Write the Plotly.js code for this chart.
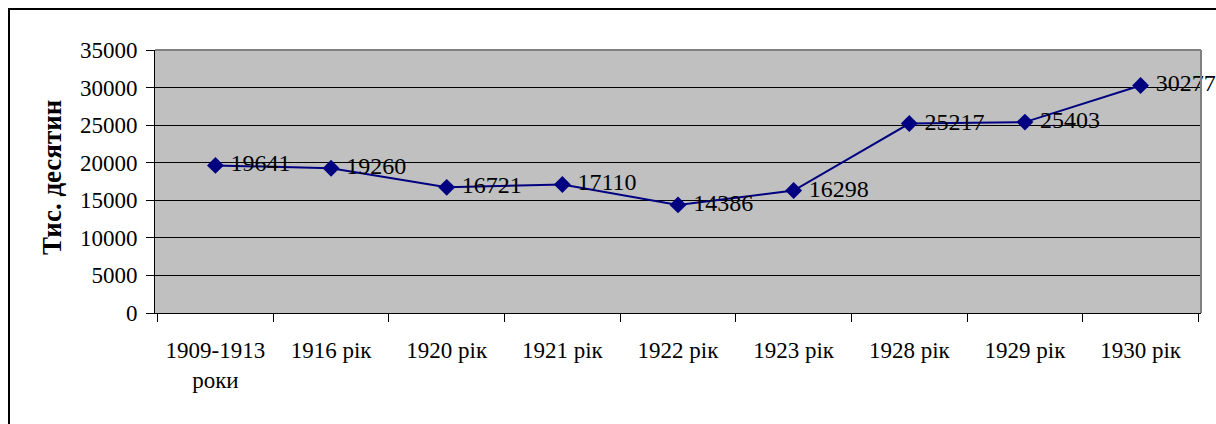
<!DOCTYPE html>
<html>
<head>
<meta charset="utf-8">
<script src="https://cdn.plot.ly/plotly-3.0.1.min.js"></script>
<style>
  html, body { margin: 0; padding: 0; background: #fff; overflow: hidden; }
  #frame { position: absolute; left: 8px; top: 8px; width: 1400px; height: 600px;
           border-left: 2px solid #000; border-top: 2px solid #000; }
  #chart { position: absolute; left: 0; top: 0; width: 1216px; height: 424px; }
</style>
</head>
<body>
<div id="frame"></div>
<div id="chart"></div>
<script>
const categories = ["1909-1913<br>роки", "1916 рік", "1920 рік", "1921 рік", "1922 рік", "1923 рік", "1928 рік", "1929 рік", "1930 рік"];
const values = [19641, 19260, 16721, 17110, 14386, 16298, 25217, 25403, 30277];
const yTitle = "Тис. десятин";

const serif = "Times New Roman, Liberation Serif, DejaVu Serif, serif";

const trace = {
  x: categories,
  y: values,
  type: "scatter",
  mode: "lines+markers+text",
  text: values.map(v => "\u00a0" + v),
  textposition: "middle right",
  textfont: { family: serif, size: 24, color: "#000" },
  line: { color: "#000080", width: 2 },
  marker: { symbol: "diamond", size: 13, color: "#000080" },
  cliponaxis: false,
  hoverinfo: "skip"
};

const layout = {
  width: 1216, height: 424,
  margin: { l: 155, r: 15, t: 50, b: 111 },
  paper_bgcolor: "rgba(0,0,0,0)",
  plot_bgcolor: "#C0C0C0",
  showlegend: false,
  font: { family: serif, color: "#000" },
  xaxis: {
    type: "category",
    showline: true, linecolor: "#000", linewidth: 1,
    showgrid: false, zeroline: false,
    ticks: "outside", tickson: "boundaries", ticklen: 8, tickcolor: "#000",
    tickfont: { family: serif, size: 23, color: "#000" },
    ticklabelstandoff: 16,
    fixedrange: true
  },
  yaxis: {
    range: [0, 35000], dtick: 5000, tick0: 0, tickformat: "d",
    showline: true, linecolor: "#000", linewidth: 1,
    showgrid: true, gridcolor: "#000", gridwidth: 1, zeroline: false,
    ticks: "outside", ticklen: 8, tickcolor: "#000",
    tickfont: { family: serif, size: 23, color: "#000" },
    ticklabelstandoff: 4,
    fixedrange: true
  },
  shapes: [
    { type: "line", xref: "paper", yref: "paper", x0: 0, x1: 1, y0: 1, y1: 1, line: { color: "#808080", width: 2 } },
    { type: "line", xref: "paper", yref: "paper", x0: 1, x1: 1, y0: 0, y1: 1, line: { color: "#808080", width: 2 } }
  ],
  annotations: [
    { text: "<b>" + yTitle + "</b>", xref: "paper", yref: "paper",
      x: (52 - 155) / 1046, y: (313 - 178) / 263, xanchor: "center", yanchor: "middle",
      textangle: -90, showarrow: false, font: { family: serif, size: 27, color: "#000" } }
  ]
};

Plotly.newPlot("chart", [trace], layout, { displayModeBar: false, staticPlot: true });
</script>
</body>
</html>
